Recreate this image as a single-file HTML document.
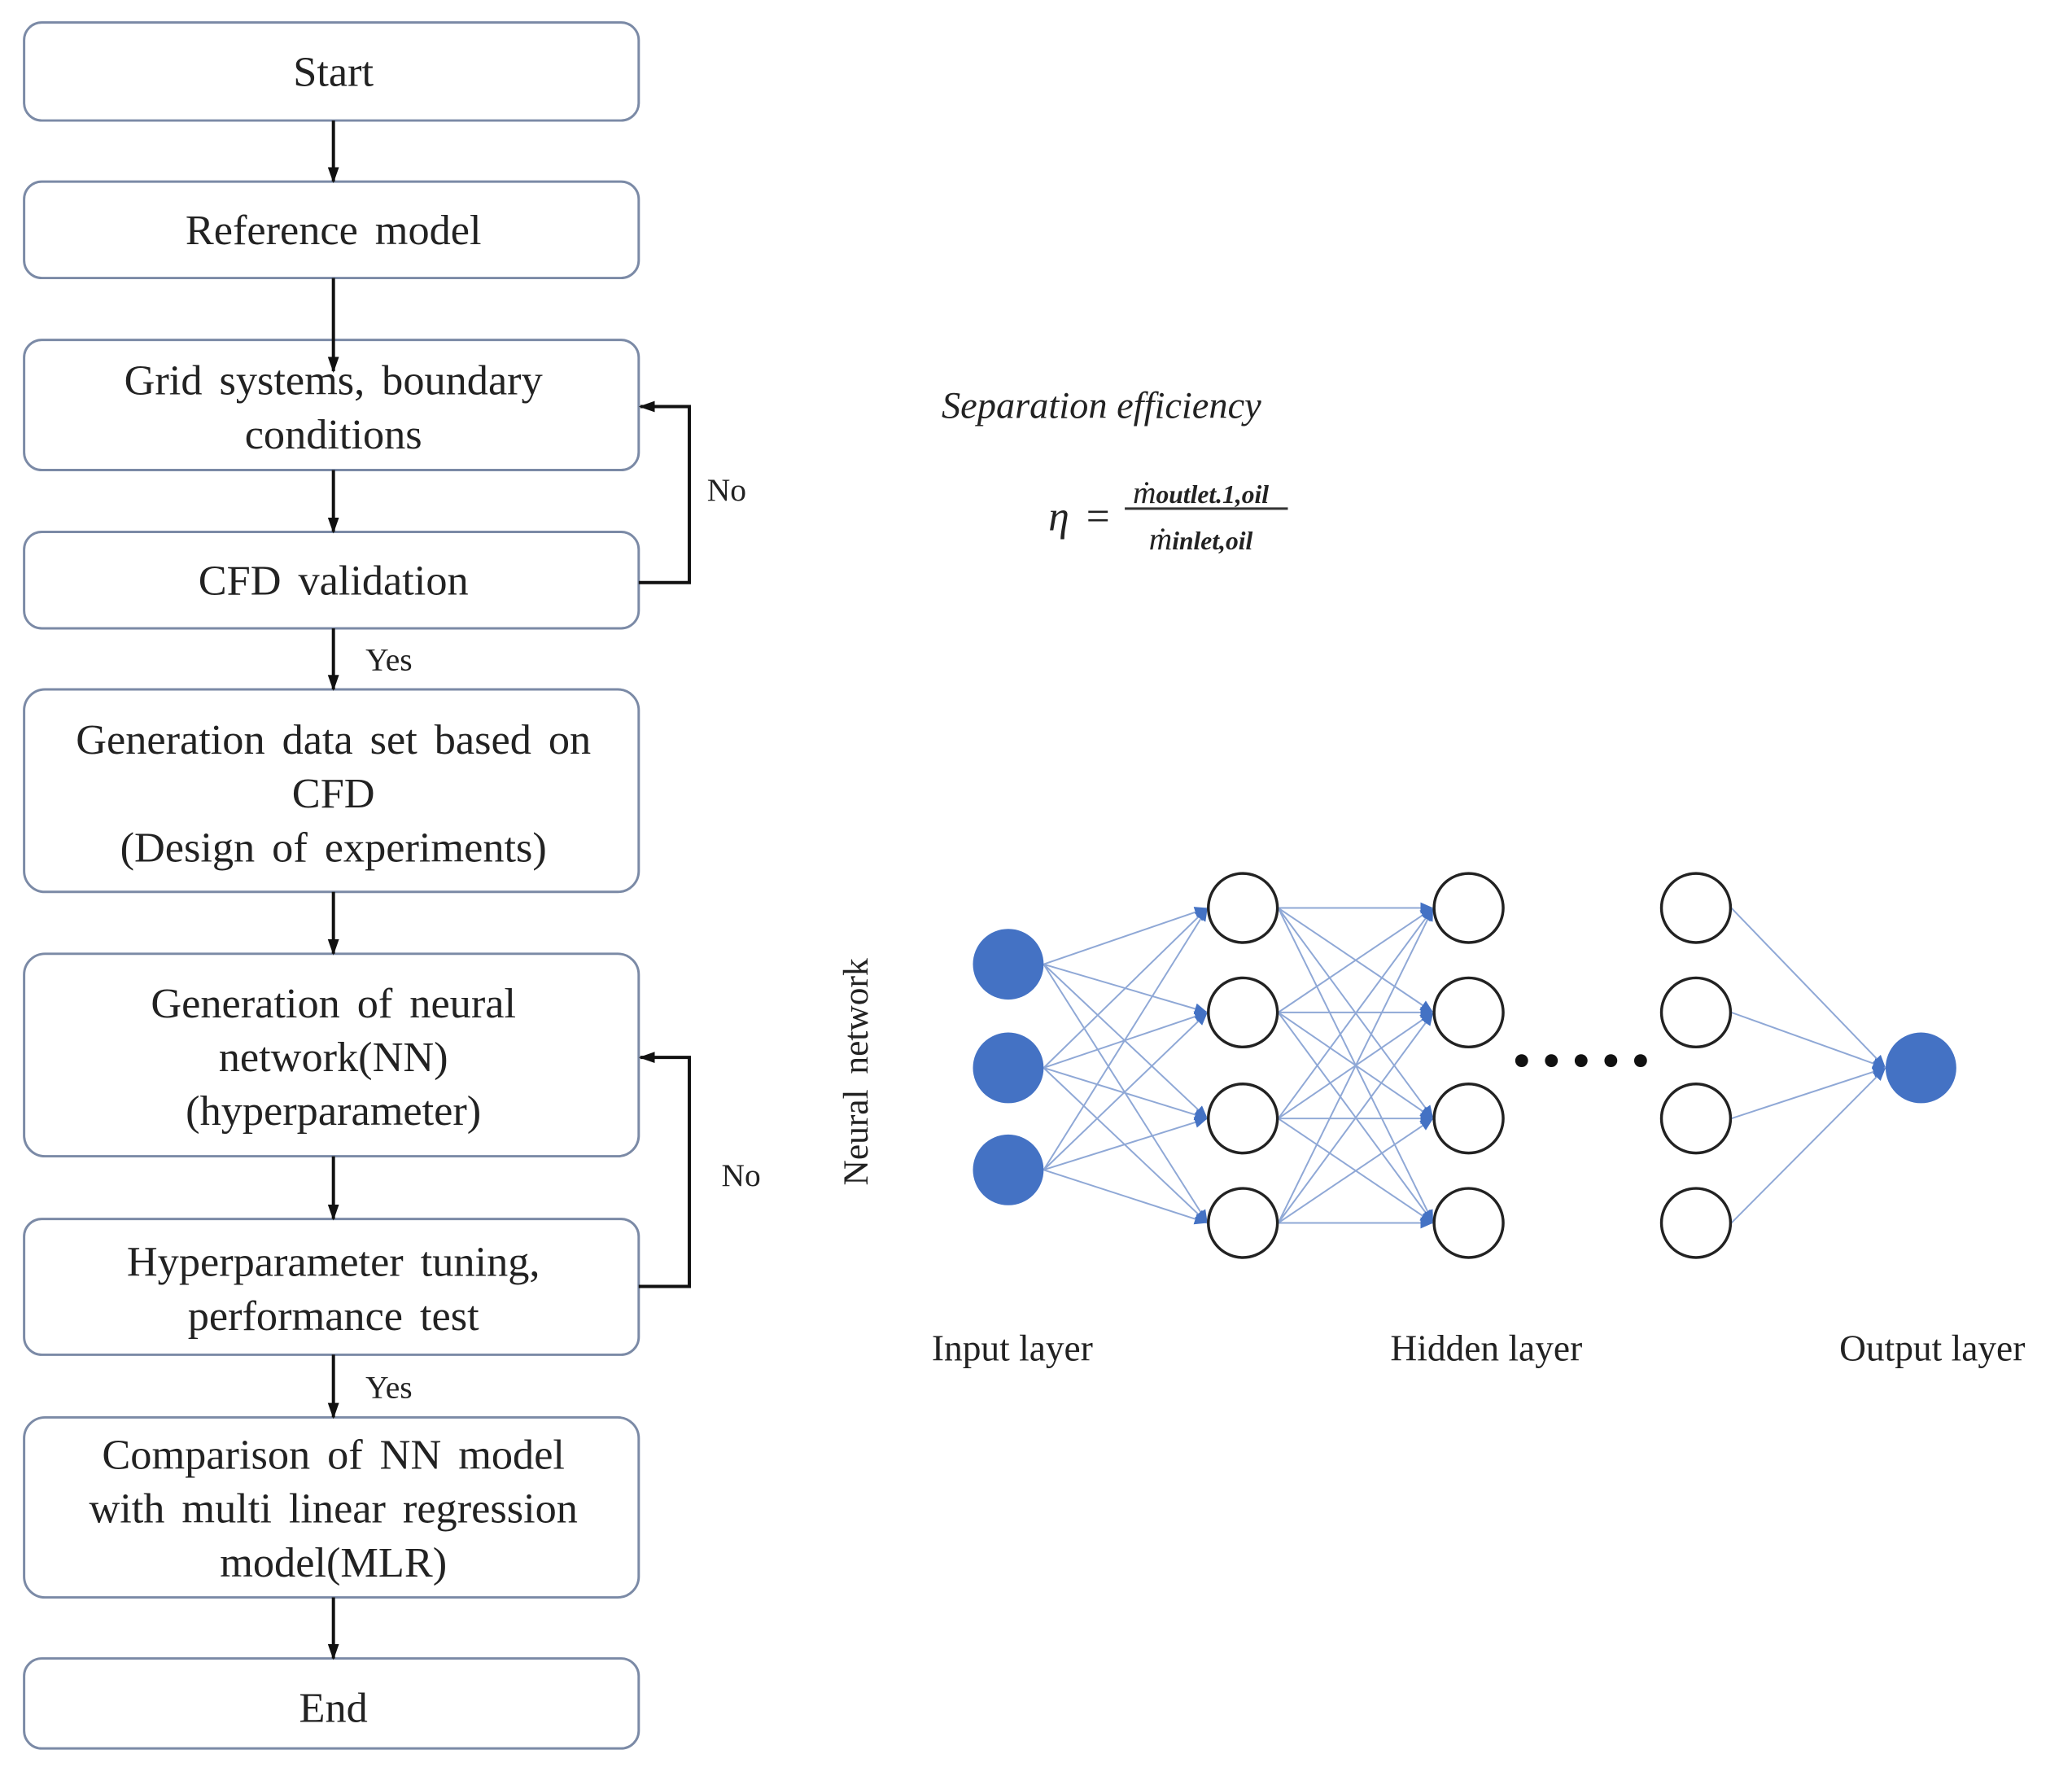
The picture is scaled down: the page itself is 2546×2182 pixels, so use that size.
<!DOCTYPE html>
<html><head><meta charset="utf-8"><style>
html,body{margin:0;padding:0;background:#fff;}
svg{display:block;}
text{font-family:"Liberation Serif",serif;fill:#222;}
</style></head><body>
<svg width="2546" height="2182" viewBox="0 0 2546 2182" xmlns="http://www.w3.org/2000/svg">
<defs>
<marker id="ab" markerWidth="18" markerHeight="18" refX="16" refY="9" orient="auto" markerUnits="userSpaceOnUse"><path d="M0,2 L16,9 L0,16 Z" fill="#4472c4"/></marker>
<marker id="k" viewBox="0 0 20 20" markerWidth="20" markerHeight="20" refX="18" refY="10" orient="auto" markerUnits="userSpaceOnUse"><path d="M0,3 L20,10 L0,17 Z" fill="#111"/></marker>
</defs>
<g transform="scale(0.9872)">
<g fill="#fff" stroke="#7b8aa6" stroke-width="3">
<rect x="30" y="28" width="765" height="122" rx="22"/>
<rect x="30" y="226" width="765" height="120" rx="22"/>
<rect x="30" y="423" width="765" height="162" rx="22"/>
<rect x="30" y="662" width="765" height="120" rx="22"/>
<rect x="30" y="858" width="765" height="252" rx="26"/>
<rect x="30" y="1187" width="765" height="252" rx="26"/>
<rect x="30" y="1517" width="765" height="169" rx="22"/>
<rect x="30" y="1764" width="765" height="224" rx="26"/>
<rect x="30" y="2064" width="765" height="112" rx="22"/>
</g>
<g stroke="#111" stroke-width="4" fill="none">
<line x1="415" y1="150" x2="415" y2="226" marker-end="url(#k)"/>
<line x1="415" y1="346" x2="415" y2="462" marker-end="url(#k)"/>
<line x1="415" y1="585" x2="415" y2="662" marker-end="url(#k)"/>
<line x1="415" y1="782" x2="415" y2="858" marker-end="url(#k)"/>
<line x1="415" y1="1110" x2="415" y2="1187" marker-end="url(#k)"/>
<line x1="415" y1="1439" x2="415" y2="1517" marker-end="url(#k)"/>
<line x1="415" y1="1686" x2="415" y2="1764" marker-end="url(#k)"/>
<line x1="415" y1="1988" x2="415" y2="2064" marker-end="url(#k)"/>
<polyline points="795,725 858,725 858,506 797,506" marker-end="url(#k)"/>
<polyline points="795,1601 858,1601 858,1316 797,1316" marker-end="url(#k)"/>
</g>
<g font-size="53" text-anchor="middle" word-spacing="8">
<text x="415" y="107">Start</text>
<text x="415" y="304">Reference  model</text>
<text x="415" y="491">Grid systems,  boundary</text>
<text x="415" y="558">conditions</text>
<text x="415" y="740">CFD validation</text>
<text x="415" y="938">Generation  data  set  based  on</text>
<text x="415" y="1005">CFD</text>
<text x="415" y="1072">(Design  of  experiments)</text>
<text x="415" y="1266">Generation  of  neural</text>
<text x="415" y="1333">network(NN)</text>
<text x="415" y="1400">(hyperparameter)</text>
<text x="415" y="1588">Hyperparameter  tuning,</text>
<text x="415" y="1655">performance  test</text>
<text x="415" y="1828">Comparison  of  NN model</text>
<text x="415" y="1895">with  multi  linear  regression</text>
<text x="415" y="1962">model(MLR)</text>
<text x="415" y="2143">End</text>
</g>
<g font-size="40">
<text x="880" y="623">No</text>
<text x="898" y="1476">No</text>
<text x="455" y="834">Yes</text>
<text x="455" y="1740">Yes</text>
</g>
<text x="1172" y="520" font-size="47" font-style="italic">Separation efficiency</text>
<text x="1305" y="660" font-size="52" font-style="italic">η</text>
<text x="1352" y="660" font-size="52">=</text>
<line x1="1400" y1="633" x2="1603" y2="633" stroke="#333" stroke-width="3"/>
<text x="1410" y="626" font-size="40" font-style="italic">ṁ<tspan font-size="32" font-weight="bold">outlet.1,oil</tspan></text>
<text x="1430" y="684" font-size="40" font-style="italic">ṁ<tspan font-size="32" font-weight="bold">inlet,oil</tspan></text>
<g stroke="#8fa8d6" stroke-width="2">
<line x1="1299" y1="1200" x2="1503" y2="1130" marker-end="url(#ab)"/>
<line x1="1299" y1="1200" x2="1503" y2="1260" marker-end="url(#ab)"/>
<line x1="1299" y1="1200" x2="1503" y2="1392" marker-end="url(#ab)"/>
<line x1="1299" y1="1200" x2="1503" y2="1522" marker-end="url(#ab)"/>
<line x1="1299" y1="1329" x2="1503" y2="1130" marker-end="url(#ab)"/>
<line x1="1299" y1="1329" x2="1503" y2="1260" marker-end="url(#ab)"/>
<line x1="1299" y1="1329" x2="1503" y2="1392" marker-end="url(#ab)"/>
<line x1="1299" y1="1329" x2="1503" y2="1522" marker-end="url(#ab)"/>
<line x1="1299" y1="1456" x2="1503" y2="1130" marker-end="url(#ab)"/>
<line x1="1299" y1="1456" x2="1503" y2="1260" marker-end="url(#ab)"/>
<line x1="1299" y1="1456" x2="1503" y2="1392" marker-end="url(#ab)"/>
<line x1="1299" y1="1456" x2="1503" y2="1522" marker-end="url(#ab)"/>
<line x1="1591" y1="1130" x2="1784" y2="1130" marker-end="url(#ab)"/>
<line x1="1591" y1="1130" x2="1784" y2="1260" marker-end="url(#ab)"/>
<line x1="1591" y1="1130" x2="1784" y2="1392" marker-end="url(#ab)"/>
<line x1="1591" y1="1130" x2="1784" y2="1522" marker-end="url(#ab)"/>
<line x1="1591" y1="1260" x2="1784" y2="1130" marker-end="url(#ab)"/>
<line x1="1591" y1="1260" x2="1784" y2="1260" marker-end="url(#ab)"/>
<line x1="1591" y1="1260" x2="1784" y2="1392" marker-end="url(#ab)"/>
<line x1="1591" y1="1260" x2="1784" y2="1522" marker-end="url(#ab)"/>
<line x1="1591" y1="1392" x2="1784" y2="1130" marker-end="url(#ab)"/>
<line x1="1591" y1="1392" x2="1784" y2="1260" marker-end="url(#ab)"/>
<line x1="1591" y1="1392" x2="1784" y2="1392" marker-end="url(#ab)"/>
<line x1="1591" y1="1392" x2="1784" y2="1522" marker-end="url(#ab)"/>
<line x1="1591" y1="1522" x2="1784" y2="1130" marker-end="url(#ab)"/>
<line x1="1591" y1="1522" x2="1784" y2="1260" marker-end="url(#ab)"/>
<line x1="1591" y1="1522" x2="1784" y2="1392" marker-end="url(#ab)"/>
<line x1="1591" y1="1522" x2="1784" y2="1522" marker-end="url(#ab)"/>
<line x1="2155" y1="1130" x2="2347" y2="1329" marker-end="url(#ab)"/>
<line x1="2155" y1="1260" x2="2347" y2="1329" marker-end="url(#ab)"/>
<line x1="2155" y1="1392" x2="2347" y2="1329" marker-end="url(#ab)"/>
<line x1="2155" y1="1522" x2="2347" y2="1329" marker-end="url(#ab)"/>
</g>
<g fill="#4472c4">
<circle cx="1255" cy="1200" r="44"/>
<circle cx="1255" cy="1329" r="44"/>
<circle cx="1255" cy="1456" r="44"/>
<circle cx="2391" cy="1329" r="44"/>
</g>
<g fill="#fff" stroke="#222" stroke-width="3.5">
<circle cx="1547" cy="1130" r="43"/><circle cx="1547" cy="1260" r="43"/><circle cx="1547" cy="1392" r="43"/><circle cx="1547" cy="1522" r="43"/>
<circle cx="1828" cy="1130" r="43"/><circle cx="1828" cy="1260" r="43"/><circle cx="1828" cy="1392" r="43"/><circle cx="1828" cy="1522" r="43"/>
<circle cx="2111" cy="1130" r="43"/><circle cx="2111" cy="1260" r="43"/><circle cx="2111" cy="1392" r="43"/><circle cx="2111" cy="1522" r="43"/>
</g>
<g fill="#111">
<circle cx="1894" cy="1320" r="8"/><circle cx="1931" cy="1320" r="8"/><circle cx="1968" cy="1320" r="8"/><circle cx="2005" cy="1320" r="8"/><circle cx="2042" cy="1320" r="8"/>
</g>
<text x="0" y="0" font-size="44" text-anchor="middle" word-spacing="8" transform="translate(1080,1334) rotate(-90)">Neural  network</text>
<g font-size="46" text-anchor="middle">
<text x="1260" y="1693">Input layer</text>
<text x="1850" y="1693">Hidden layer</text>
<text x="2405" y="1693">Output layer</text>
</g>
</g>
</svg>
</body></html>
